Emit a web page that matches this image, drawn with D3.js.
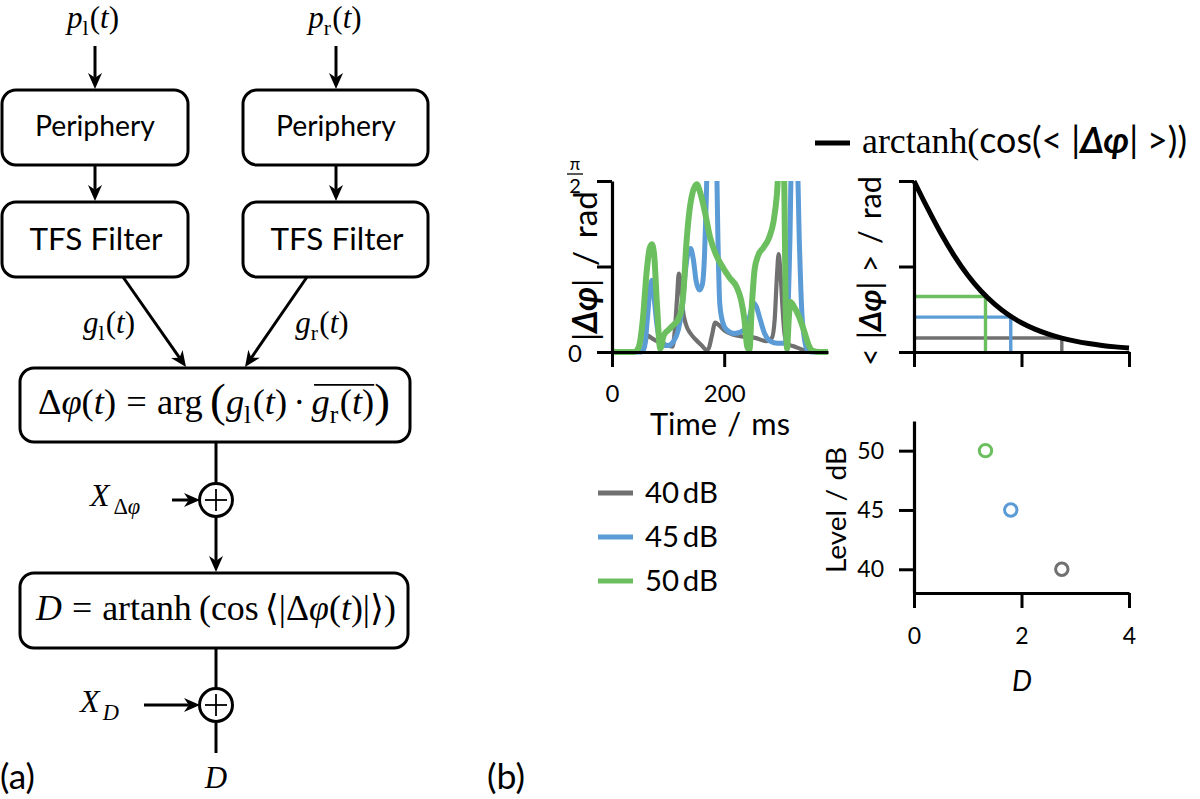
<!DOCTYPE html>
<html><head><meta charset="utf-8">
<script src="https://cdn.jsdelivr.net/npm/d3@7"></script>
<style>body{margin:0;background:#fff}svg{display:block}</style>
</head><body>
<svg id="c" width="1200" height="799"></svg>
<script>
// ---------------- data ----------------
const levels = ["40 dB", "45 dB", "50 dB"];
const levelDb = [40, 45, 50];
const colors = ["#707070", "#5b9bd6", "#6cbf5e"];
// time course of |delta phi| (rad); values above pi/2 are clipped by the axes
const t40 = [0,55,60,64,70,80,95,108,112,116,119,122,126,132,140,150,160,168,172,178,184,190,200,215,235,255,275,285,290,294,297,300,304,308,315,325,340,348,385];
const p40 = [0,0,0.1,0.15,0.13,0.1,0.07,0.05,0.2,0.5,0.72,0.65,0.4,0.25,0.17,0.11,0.06,0.02,0.03,0.15,0.27,0.25,0.2,0.16,0.14,0.13,0.1,0.13,0.3,0.7,0.9,0.75,0.4,0.15,0.07,0.05,0.02,0,0];
const t45 = [0,52,58,63,68,71,75,80,86,92,100,110,118,125,130,135,140,145,150,156,161,165,168,170,186,189,192,197,205,218,235,245,252,257,264,272,282,295,308,313,317,320,330,334,338,343,348,355,385];
const p45 = [0,0,0.05,0.3,0.6,0.66,0.5,0.25,0.1,0.06,0.06,0.1,0.2,0.4,0.7,0.9,0.95,0.85,0.65,0.57,0.62,0.9,1.4,1.75,1.75,1.0,0.45,0.28,0.2,0.17,0.2,0.32,0.45,0.42,0.3,0.17,0.1,0.08,0.08,0.3,1.0,1.75,1.75,1.0,0.4,0.12,0.02,0,0];
const t50 = [0,40,48,55,62,67,71,75,80,86,92,100,110,118,124,128,132,137,143,151,158,165,175,185,195,210,222,230,236,241,245,249,254,260,270,280,288,294,298,306,310,312,315,318,324,333,342,350,358,370,385];
const p50 = [0,0,0.05,0.3,0.75,0.95,0.99,0.9,0.45,0.03,0.15,0.2,0.25,0.3,0.4,0.6,0.95,1.25,1.45,1.54,1.45,1.3,1.05,0.9,0.8,0.68,0.6,0.48,0.3,0.05,0.02,0.4,0.75,0.88,0.96,1.05,1.2,1.45,1.75,1.75,0.3,0.03,0.3,0.46,0.42,0.33,0.2,0.07,0.01,0,0];
// mean |delta phi| and resulting D per level
const meanPhase = [0.128, 0.32, 0.51];
const dValue = [2.75, 1.80, 1.33];
// black curve: D vs <|delta phi|>
const curveD = [0,0.25,0.5,0.75,1,1.25,1.5,1.75,2,2.25,2.5,2.75,3,3.25,3.5,3.75,4];
const curvePhase = [1.571,1.323,1.090,0.883,0.705,0.558,0.440,0.344,0.269,0.210,0.164,0.128,0.100,0.078,0.060,0.047,0.037];
const timeTicks = [0, 200];
const dTicks = [0, 2, 4];
const levelTicks = [40, 45, 50];

const SERIF = "'Liberation Serif','DejaVu Serif',serif";
const SANS = "Lato,'Open Sans','DejaVu Sans',sans-serif";
const svg = d3.select("#c");

// ---------------- helpers ----------------
function mtext(parent, segs, x, y, size, anchor, rotate, fitW) {
  const g = parent.append("g");
  let cx = 0, oMin = Infinity, oMax = -Infinity;
  segs.forEach(s => {
    if (s.gap) { cx += s.gap * size; return; }
    const fs = size * (s.sub ? 0.7 : 1) * (s.k || 1);
    const t = g.append("text").attr("x", cx)
      .attr("y", (s.sub ? size * 0.24 : 0) + (s.dy || 0) * size)
      .attr("font-family", s.sans ? SANS : SERIF)
      .attr("font-style", s.i ? "italic" : "normal")
      .attr("font-weight", s.b ? "bold" : "normal")
      .attr("font-size", fs).attr("fill", "#000").text(s.t);
    const w = t.node().getComputedTextLength();
    if (s.over) { oMin = Math.min(oMin, cx); oMax = Math.max(oMax, cx + w); }
    cx += w + (s.after || 0) * size;
  });
  if (oMax > oMin) g.append("line").attr("x1", oMin + 2).attr("x2", oMax).attr("y1", -size * 0.8).attr("y2", -size * 0.8)
    .attr("stroke", "#000").attr("stroke-width", 1.4);
  const k = fitW ? fitW / cx : 1;
  const off = anchor === "middle" ? -cx / 2 : anchor === "end" ? -cx : 0;
  g.attr("transform", `translate(${x},${y}) rotate(${rotate || 0}) scale(${k}) translate(${off},0)`);
  return g;
}
function stext(str, x, y, size, anchor, rotate, fitW, italic) {
  return mtext(svg, [{t: str, sans: 1, i: italic ? 1 : 0}], x, y, size, anchor, rotate, fitW);
}
function arrow(x1, y1, x2, y2) {
  const a = Math.atan2(y2 - y1, x2 - x1), L = 16, W = 7;
  const bx = x2 - L * Math.cos(a), by = y2 - L * Math.sin(a);
  const nx = x2 - L * 0.7 * Math.cos(a), ny = y2 - L * 0.7 * Math.sin(a);
  svg.append("line").attr("x1", x1).attr("y1", y1).attr("x2", nx).attr("y2", ny)
    .attr("stroke", "#000").attr("stroke-width", 3);
  const px = -Math.sin(a) * W, py = Math.cos(a) * W;
  svg.append("path").attr("d", `M${x2},${y2}L${bx + px},${by + py}L${nx},${ny}L${bx - px},${by - py}Z`).attr("fill", "#000");
}
function line(x1, y1, x2, y2) {
  svg.append("line").attr("x1", x1).attr("y1", y1).attr("x2", x2).attr("y2", y2).attr("stroke", "#000").attr("stroke-width", 3);
}
function box(x, y, w, h) {
  svg.append("rect").attr("x", x).attr("y", y).attr("width", w).attr("height", h).attr("rx", 14)
    .attr("fill", "#fff").attr("stroke", "#000").attr("stroke-width", 3);
}
function plus(cx, cy) {
  svg.append("circle").attr("cx", cx).attr("cy", cy).attr("r", 16.5).attr("fill", "#fff").attr("stroke", "#000").attr("stroke-width", 3);
  svg.append("line").attr("x1", cx - 11).attr("x2", cx + 11).attr("y1", cy).attr("y2", cy).attr("stroke", "#000").attr("stroke-width", 1.8);
  svg.append("line").attr("x1", cx).attr("x2", cx).attr("y1", cy - 11).attr("y2", cy + 11).attr("stroke", "#000").attr("stroke-width", 1.8);
}

// ---------------- (a) block diagram ----------------
mtext(svg, [{t:"p",i:1},{t:"l",sub:1,after:0.04},{t:"("},{t:"t",i:1},{t:")"}], 93, 28, 31, "middle");
mtext(svg, [{t:"p",i:1},{t:"r",sub:1,after:0.04},{t:"("},{t:"t",i:1},{t:")"}], 335, 28, 31, "middle");
arrow(95, 46, 95, 89);
arrow(336, 46, 336, 89);
box(2, 90, 186, 75);
box(243, 90, 185, 75);
stext("Periphery", 95, 136, 28, "middle", 0, 120);
stext("Periphery", 336, 136, 28, "middle", 0, 120);
arrow(95, 165, 95, 201);
arrow(336, 165, 336, 201);
box(2, 202, 186, 75);
box(243, 202, 185, 75);
stext("TFS Filter", 96, 250, 28, "middle", 0, 133);
stext("TFS Filter", 337, 250, 28, "middle", 0, 133);
arrow(123, 277, 186, 367);
arrow(307, 277, 245, 367);
mtext(svg, [{t:"g",i:1},{t:"l",sub:1,after:0.04},{t:"("},{t:"t",i:1},{t:")"}], 109, 333, 31, "middle");
mtext(svg, [{t:"g",i:1},{t:"r",sub:1,after:0.04},{t:"("},{t:"t",i:1},{t:")"}], 322, 333, 31, "middle");
box(20, 368, 390, 74);
mtext(svg, [{t:"Δ"},{t:"φ",i:1},{t:"("},{t:"t",i:1},{t:")"},{gap:0.28},{t:"="},{gap:0.28},{t:"arg"},{gap:0.2},
  {t:"(",k:1.3,dy:0.06},{t:"g",i:1},{t:"l",sub:1,after:0.04},{t:"("},{t:"t",i:1},{t:")"},{gap:0.17},{t:"·"},{gap:0.17},
  {t:"g",i:1,over:1},{t:"r",sub:1,over:1,after:0.04},{t:"(",over:1},{t:"t",i:1,over:1},{t:")",over:1},{t:")",k:1.3,dy:0.06}],
  214, 414, 30, "middle", 0, 352);
line(216, 442, 216, 484);
plus(216, 500);
mtext(svg, [{t:"X",i:1,after:0.12},{t:"Δ",sub:1},{t:"φ",i:1,sub:1}], 90, 506, 32, "start");
arrow(172, 500, 200, 500);
arrow(216, 517, 216, 572);
box(20, 573, 388, 75);
mtext(svg, [{t:"D",i:1},{gap:0.28},{t:"="},{gap:0.28},{t:"artanh"},{gap:0.2},{t:"("},{t:"cos"},{gap:0.17},{t:"⟨"},{t:"|"},{t:"Δ"},{t:"φ",i:1},{t:"("},{t:"t",i:1},{t:")"},{t:"|"},{t:"⟩"},{t:")"}],
  216, 620, 30, "middle", 0, 360);
line(216, 648, 216, 689);
plus(216, 705);
mtext(svg, [{t:"X",i:1,after:0.1},{t:"D",i:1,sub:1}], 80, 712, 32, "start");
arrow(144, 705, 200, 705);
line(216, 721, 216, 753);
mtext(svg, [{t:"D",i:1}], 216, 788, 31, "middle");
stext("(a)", 0, 789, 27, "start", 0, 35);
stext("(b)", 487, 789, 27, "start", 0, 38);

// ---------------- (b) time plot ----------------
const xT = d3.scaleLinear().domain([0, 385]).range([612, 828]);
const yT = d3.scaleLinear().domain([0, Math.PI / 2]).range([352, 181]);
svg.append("clipPath").attr("id", "clipT").append("rect").attr("x", 612).attr("y", 181).attr("width", 220).attr("height", 180);
const series = [[t40, p40], [t45, p45], [t50, p50]];
const widths = [4.2, 5, 6];
const lineGen = d3.line().x(d => xT(d[0])).y(d => yT(d[1])).curve(d3.curveMonotoneX);
const gLines = svg.append("g").attr("clip-path", "url(#clipT)");
series.forEach((s, i) => {
  gLines.append("path").datum(s[0].map((t, j) => [t, s[1][j]])).attr("d", lineGen)
    .attr("fill", "none").attr("stroke", colors[i]).attr("stroke-width", widths[i]).attr("stroke-linejoin", "round");
});
function styleAxis(g, fs) {
  g.select(".domain").attr("stroke", "#000").attr("stroke-width", 3.2);
  g.selectAll(".tick line").attr("stroke", "#000").attr("stroke-width", 3);
  g.selectAll(".tick text").attr("font-family", SANS).attr("font-size", fs).attr("fill", "#000");
}
const axTx = svg.append("g").attr("transform", `translate(0,${yT(0)})`)
  .call(d3.axisBottom(xT).tickValues(timeTicks).tickSize(15).tickSizeOuter(0).tickPadding(18).tickFormat(d3.format("d")));
styleAxis(axTx, 24);
const axTy = svg.append("g").attr("transform", `translate(${xT(0)},0)`)
  .call(d3.axisLeft(yT).tickValues([0, Math.PI / 4, Math.PI / 2]).tickSize(15).tickSizeOuter(0).tickFormat(""));
styleAxis(axTy, 24);
svg.append("text").attr("x", 575).attr("y", yT(0) + 10).attr("text-anchor", "middle").attr("font-family", SANS).attr("font-size", 24).text("0");
svg.append("text").attr("x", 575).attr("y", 170).attr("text-anchor", "middle").attr("font-family", SANS).attr("font-size", 17).text("π");
svg.append("line").attr("x1", 567).attr("x2", 583).attr("y1", 174).attr("y2", 174).attr("stroke", "#000").attr("stroke-width", 1.3);
svg.append("text").attr("x", 575).attr("y", 193).attr("text-anchor", "middle").attr("font-family", SANS).attr("font-size", 20).text("2");
mtext(svg, [{t:"Time",sans:1},{gap:0.33},{t:"/",sans:1},{gap:0.33},{t:"ms",sans:1}], 720, 435, 27, "middle", 0, 140);
mtext(svg, [{t:"|",sans:1},{t:"Δφ",sans:1,i:1,b:1},{t:"|",sans:1},{gap:0.38},{t:"/",sans:1},{gap:0.38},{t:"rad",sans:1}], 597, 266, 26, "middle", -90, 150);

// legend
levels.forEach((l, i) => {
  const yy = 493 + i * 44;
  svg.append("line").attr("x1", 598).attr("x2", 633).attr("y1", yy).attr("y2", yy).attr("stroke", colors[i]).attr("stroke-width", 5);
  stext(l.replace(" ", "\u2009"), 645, yy + 10, 26, "start", 0, 73);
});

// ---------------- (b) arctanh plot ----------------
const xD = d3.scaleLinear().domain([0, 4]).range([914, 1129]);
const yP = d3.scaleLinear().domain([0, Math.PI / 2]).range([352, 181]);
meanPhase.forEach((m, i) => {
  svg.append("line").attr("x1", xD(0)).attr("x2", xD(dValue[i])).attr("y1", yP(m)).attr("y2", yP(m)).attr("stroke", colors[i]).attr("stroke-width", 3.4);
  svg.append("line").attr("x1", xD(dValue[i])).attr("x2", xD(dValue[i])).attr("y1", yP(m)).attr("y2", yP(0)).attr("stroke", colors[i]).attr("stroke-width", 3.4);
});
svg.append("path").datum(curveD.map((d, j) => [d, curvePhase[j]]))
  .attr("d", d3.line().x(d => xD(d[0])).y(d => yP(d[1])).curve(d3.curveMonotoneX))
  .attr("fill", "none").attr("stroke", "#000").attr("stroke-width", 5);
const axPx = svg.append("g").attr("transform", `translate(0,${yP(0)})`)
  .call(d3.axisBottom(xD).tickValues(dTicks).tickSize(15).tickSizeOuter(0).tickFormat(""));
styleAxis(axPx, 22);
const axPy = svg.append("g").attr("transform", `translate(${xD(0)},0)`)
  .call(d3.axisLeft(yP).tickValues([0, Math.PI / 4, Math.PI / 2]).tickSize(15).tickSizeOuter(0).tickFormat(""));
styleAxis(axPy, 22);
mtext(svg, [{t:"<",sans:1},{gap:0.3},{t:"|",sans:1},{t:"Δφ",sans:1,i:1,b:1},{t:"|",sans:1},{gap:0.3},{t:">",sans:1},{gap:0.35},{t:"/",sans:1},{gap:0.35},{t:"rad",sans:1}], 881, 271, 27, "middle", -90, 190);
svg.append("line").attr("x1", 815).attr("x2", 850).attr("y1", 143).attr("y2", 143).attr("stroke", "#000").attr("stroke-width", 5);
mtext(svg, [{t:"arctanh("},{t:"cos(<",sans:1},{gap:0.25},{t:"|",sans:1},{t:"Δφ",sans:1,i:1,b:1},{t:"|",sans:1},{gap:0.25},{t:">))",sans:1}], 862, 153, 29, "start", 0, 325);

// ---------------- (b) level plot ----------------
const yL = d3.scaleLinear().domain([38, 52.5]).range([593, 421]);
levelDb.forEach((lv, i) => {
  svg.append("circle").attr("cx", xD(dValue[i])).attr("cy", yL(lv)).attr("r", 6.2)
    .attr("fill", "none").attr("stroke", colors[i]).attr("stroke-width", 3);
});
const axLx = svg.append("g").attr("transform", `translate(0,${yL(38)})`)
  .call(d3.axisBottom(xD).tickValues(dTicks).tickSize(15).tickSizeOuter(0).tickPadding(20).tickFormat(d3.format("d")));
styleAxis(axLx, 23);
const axLy = svg.append("g").attr("transform", `translate(${xD(0)},0)`)
  .call(d3.axisLeft(yL).tickValues(levelTicks).tickSize(15).tickSizeOuter(0).tickPadding(15).tickFormat(d3.format("d")));
styleAxis(axLy, 23);
mtext(svg, [{t:"Level",sans:1},{gap:0.3},{t:"/",sans:1},{gap:0.3},{t:"dB",sans:1}], 846, 510, 27, "middle", -90, 126);
stext("D", 1022, 691, 28, "middle", 0, 20, true);
</script>
</body></html>
